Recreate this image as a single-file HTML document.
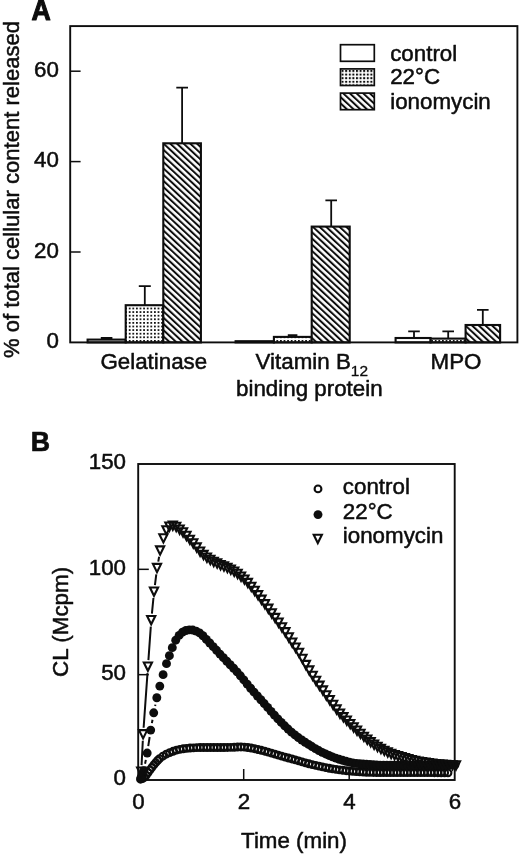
<!DOCTYPE html>
<html><head><meta charset="utf-8"><title>Figure</title>
<style>
html,body{margin:0;padding:0;background:#fff;}
body{width:520px;height:854px;overflow:hidden;font-family:"Liberation Sans",sans-serif;}
svg{display:block;filter:grayscale(1) blur(0.3px);}
</style></head><body>
<svg width="520" height="854" viewBox="0 0 520 854" font-family="'Liberation Sans', sans-serif" fill="#0d0d0d">
<style>text{stroke:#0d0d0d;stroke-width:0.5px;stroke-linejoin:round;}</style>
<defs>
<pattern id="dots" patternUnits="userSpaceOnUse" x="-0.8" y="1.6" width="3.6" height="3.6"><rect width="3.6" height="3.6" fill="#fff"/><rect x="0" y="0" width="1.75" height="1.75" fill="#0d0d0d"/></pattern>
<pattern id="dotsL" patternUnits="userSpaceOnUse" x="341.6" y="70.0" width="3.6" height="3.6"><rect width="3.6" height="3.6" fill="#fff"/><rect x="0" y="0" width="2.0" height="2.0" fill="#0d0d0d"/></pattern>
<pattern id="hatch" patternUnits="userSpaceOnUse" x="1.0" width="4.55" height="40" patternTransform="rotate(-47)"><rect width="4.55" height="40" fill="#fff"/><rect x="0" y="0" width="2.0" height="40" fill="#0d0d0d"/></pattern>
</defs>
<rect width="520" height="854" fill="#fff"/>
<g id="panelA">
<path d="M106.6 339.6V338M100.8 338H112.4" stroke="#0d0d0d" stroke-width="1.8" fill="none"/>
<rect x="87.6" y="339.6" width="38.1" height="2.8" fill="#fff" stroke="#0d0d0d" stroke-width="2.1"/>
<path d="M144.8 305.2V286.2M138.8 286.2H150.8" stroke="#0d0d0d" stroke-width="1.8" fill="none"/>
<rect x="125.7" y="305.2" width="37.6" height="37.2" fill="url(#dots)" stroke="#0d0d0d" stroke-width="2.1"/>
<rect x="163.3" y="143.3" width="37.6" height="199.1" fill="url(#hatch)" stroke="#0d0d0d" stroke-width="2.1"/>
<rect x="235.6" y="341.2" width="38.3" height="1.2" fill="#fff" stroke="#0d0d0d" stroke-width="2.1"/>
<path d="M292.6 336.9V335.2M287.8 335.2H297.4" stroke="#0d0d0d" stroke-width="1.8" fill="none"/>
<rect x="273.9" y="336.9" width="37.8" height="5.5" fill="url(#dots)" stroke="#0d0d0d" stroke-width="2.1"/>
<path d="M331.2 226.6V200.4M325.4 200.4H337" stroke="#0d0d0d" stroke-width="1.8" fill="none"/>
<rect x="311.7" y="226.6" width="38" height="115.8" fill="url(#hatch)" stroke="#0d0d0d" stroke-width="2.1"/>
<path d="M414 338V331.3M408.2 331.3H419.8" stroke="#0d0d0d" stroke-width="1.8" fill="none"/>
<rect x="395.6" y="338" width="35" height="4.4" fill="#fff" stroke="#0d0d0d" stroke-width="2.1"/>
<path d="M448.2 338.6V331.3M442.4 331.3H454" stroke="#0d0d0d" stroke-width="1.8" fill="none"/>
<rect x="430.6" y="338.6" width="35" height="3.8" fill="url(#dots)" stroke="#0d0d0d" stroke-width="2.1"/>
<path d="M482.8 325V309.8M477 309.8H488.6" stroke="#0d0d0d" stroke-width="1.8" fill="none"/>
<rect x="465.6" y="325" width="34.5" height="17.4" fill="url(#hatch)" stroke="#0d0d0d" stroke-width="2.1"/>
<path d="M182.1 143.3V87.6M176.3 87.6H188" stroke="#0d0d0d" stroke-width="1.8" fill="none"/>
<rect x="70.2" y="26.1" width="447.2" height="316.3" fill="none" stroke="#0d0d0d" stroke-width="1.9"/>
<path d="M70.2 252H80.6" stroke="#0d0d0d" stroke-width="1.5"/>
<path d="M70.2 161.6H80.6" stroke="#0d0d0d" stroke-width="1.5"/>
<path d="M70.2 71.2H80.6" stroke="#0d0d0d" stroke-width="1.5"/>
<text transform="translate(58.9 348.2) scale(1.03 1)" font-size="21.7" text-anchor="end">0</text>
<text transform="translate(58.9 257.8) scale(1.03 1)" font-size="21.7" text-anchor="end">20</text>
<text transform="translate(58.9 167.4) scale(1.03 1)" font-size="21.7" text-anchor="end">40</text>
<text transform="translate(58.9 77) scale(1.03 1)" font-size="21.7" text-anchor="end">60</text>
<text transform="translate(19 189.5) rotate(-90)" font-size="21.7" text-anchor="middle" textLength="337" lengthAdjust="spacingAndGlyphs">% of total cellular content released</text>
<text transform="translate(153.8 369) scale(1.03 1)" font-size="21.7" text-anchor="middle">Gelatinase</text>
<text transform="translate(255.6 369.3) scale(1.03 1)" font-size="21.7" text-anchor="start">Vitamin B<tspan font-size="15" dy="6.6" style="stroke-width:0.3px">12</tspan></text>
<text transform="translate(309.3 395.8) scale(1.03 1)" font-size="21.7" text-anchor="middle">binding protein</text>
<text transform="translate(456 369.2) scale(1.03 1)" font-size="21.7" text-anchor="middle">MPO</text>
<rect x="340.5" y="44.7" width="33.8" height="16.6" fill="#fff" stroke="#0d0d0d" stroke-width="1.7"/>
<rect x="340.5" y="68.9" width="33.8" height="16.6" fill="url(#dotsL)" stroke="#0d0d0d" stroke-width="1.7"/>
<rect x="340.5" y="93.1" width="33.8" height="16.6" fill="url(#hatch)" stroke="#0d0d0d" stroke-width="1.7"/>
<text transform="translate(390.2 60.5) scale(1.03 1)" font-size="21.7" text-anchor="start">control</text>
<text transform="translate(390.2 84.2) scale(1.03 1)" font-size="21.7" text-anchor="start">22°C</text>
<text transform="translate(390.2 108.5) scale(1.03 1)" font-size="21.7" text-anchor="start">ionomycin</text>
<text transform="translate(31.4 19.7) scale(0.89 1)" font-size="30" font-weight="bold" style="stroke-width:1.1px">A</text>
</g>
<g id="panelB">
<text transform="translate(30.7 451.0) scale(0.94 1)" font-size="28.4" font-weight="bold" style="stroke-width:0.7px">B</text>
<rect x="138.2" y="464" width="316.5" height="316" fill="none" stroke="#0d0d0d" stroke-width="1.9"/>
<path d="M138.2 674.67H148.8" stroke="#0d0d0d" stroke-width="1.5"/>
<path d="M138.2 569.33H148.8" stroke="#0d0d0d" stroke-width="1.5"/>
<path d="M243.7 780V769" stroke="#0d0d0d" stroke-width="1.5"/>
<path d="M349.2 780V769" stroke="#0d0d0d" stroke-width="1.5"/>
<text transform="translate(126 785.2) scale(1.03 1)" font-size="21.7" text-anchor="end">0</text>
<text transform="translate(126 679.87) scale(1.03 1)" font-size="21.7" text-anchor="end">50</text>
<text transform="translate(126 574.53) scale(1.03 1)" font-size="21.7" text-anchor="end">100</text>
<text transform="translate(126 469.2) scale(1.03 1)" font-size="21.7" text-anchor="end">150</text>
<text transform="translate(138.4 809.2) scale(1.03 1)" font-size="21.7" text-anchor="middle">0</text>
<text transform="translate(243.9 809.2) scale(1.03 1)" font-size="21.7" text-anchor="middle">2</text>
<text transform="translate(349.4 809.2) scale(1.03 1)" font-size="21.7" text-anchor="middle">4</text>
<text transform="translate(454.9 809.2) scale(1.03 1)" font-size="21.7" text-anchor="middle">6</text>
<text transform="translate(67.6 621.8) rotate(-90) scale(1.035 1)" font-size="21.7" text-anchor="middle">CL (Mcpm)</text>
<text transform="translate(294 847.9) scale(1.03 1)" font-size="21.7" text-anchor="middle">Time (min)</text>
<g fill="none" stroke="#0d0d0d" stroke-width="2.1"><circle cx="140.5" cy="779.2" r="3.4"/><circle cx="142.4" cy="778.52" r="3.4"/><circle cx="144.3" cy="777.27" r="3.4"/><circle cx="146.2" cy="775.29" r="3.4"/><circle cx="148.1" cy="772.55" r="3.4"/><circle cx="150" cy="769.91" r="3.4"/><circle cx="151.9" cy="767.34" r="3.4"/><circle cx="153.8" cy="764.88" r="3.4"/><circle cx="155.7" cy="762.61" r="3.4"/><circle cx="157.6" cy="760.49" r="3.4"/><circle cx="159.5" cy="758.69" r="3.4"/><circle cx="162.89" cy="756.13" r="3.4"/><circle cx="166.29" cy="754.17" r="3.4"/><circle cx="169.68" cy="752.6" r="3.4"/><circle cx="173.08" cy="751.28" r="3.4"/><circle cx="176.47" cy="750.15" r="3.4"/><circle cx="179.86" cy="749.34" r="3.4"/><circle cx="183.26" cy="748.79" r="3.4"/><circle cx="186.65" cy="748.36" r="3.4"/><circle cx="190.05" cy="748.04" r="3.4"/><circle cx="193.44" cy="747.84" r="3.4"/><circle cx="196.84" cy="747.67" r="3.4"/><circle cx="200.23" cy="747.57" r="3.4"/><circle cx="203.62" cy="747.56" r="3.4"/><circle cx="207.02" cy="747.56" r="3.4"/><circle cx="210.41" cy="747.56" r="3.4"/><circle cx="213.81" cy="747.56" r="3.4"/><circle cx="217.2" cy="747.56" r="3.4"/><circle cx="220.59" cy="747.54" r="3.4"/><circle cx="223.99" cy="747.5" r="3.4"/><circle cx="227.38" cy="747.45" r="3.4"/><circle cx="230.78" cy="747.39" r="3.4"/><circle cx="234.17" cy="747.29" r="3.4"/><circle cx="237.56" cy="747.06" r="3.4"/><circle cx="240.96" cy="746.93" r="3.4"/><circle cx="244.35" cy="747.1" r="3.4"/><circle cx="247.75" cy="747.5" r="3.4"/><circle cx="251.14" cy="748" r="3.4"/><circle cx="254.54" cy="748.71" r="3.4"/><circle cx="257.93" cy="749.48" r="3.4"/><circle cx="261.32" cy="750.3" r="3.4"/><circle cx="264.72" cy="751.19" r="3.4"/><circle cx="268.11" cy="752.13" r="3.4"/><circle cx="271.51" cy="753.15" r="3.4"/><circle cx="274.9" cy="754.17" r="3.4"/><circle cx="278.29" cy="755.16" r="3.4"/><circle cx="281.69" cy="756.14" r="3.4"/><circle cx="285.08" cy="757.1" r="3.4"/><circle cx="288.48" cy="758.03" r="3.4"/><circle cx="291.87" cy="758.94" r="3.4"/><circle cx="295.26" cy="759.87" r="3.4"/><circle cx="298.66" cy="760.84" r="3.4"/><circle cx="302.05" cy="761.85" r="3.4"/><circle cx="305.45" cy="762.85" r="3.4"/><circle cx="308.84" cy="763.77" r="3.4"/><circle cx="312.24" cy="764.62" r="3.4"/><circle cx="315.63" cy="765.41" r="3.4"/><circle cx="319.02" cy="766.17" r="3.4"/><circle cx="322.42" cy="766.9" r="3.4"/><circle cx="325.81" cy="767.61" r="3.4"/><circle cx="329.21" cy="768.26" r="3.4"/><circle cx="332.6" cy="768.85" r="3.4"/><circle cx="335.99" cy="769.38" r="3.4"/><circle cx="339.39" cy="769.87" r="3.4"/><circle cx="342.78" cy="770.3" r="3.4"/><circle cx="346.18" cy="770.68" r="3.4"/><circle cx="349.57" cy="771.03" r="3.4"/><circle cx="352.96" cy="771.33" r="3.4"/><circle cx="356.36" cy="771.59" r="3.4"/><circle cx="359.75" cy="771.83" r="3.4"/><circle cx="363.15" cy="772.06" r="3.4"/><circle cx="366.54" cy="772.25" r="3.4"/><circle cx="369.94" cy="772.38" r="3.4"/><circle cx="373.33" cy="772.45" r="3.4"/><circle cx="376.72" cy="772.51" r="3.4"/><circle cx="380.12" cy="772.56" r="3.4"/><circle cx="383.51" cy="772.6" r="3.4"/><circle cx="386.91" cy="772.62" r="3.4"/><circle cx="390.3" cy="772.63" r="3.4"/><circle cx="393.69" cy="772.63" r="3.4"/><circle cx="397.09" cy="772.63" r="3.4"/><circle cx="400.48" cy="772.63" r="3.4"/><circle cx="403.88" cy="772.63" r="3.4"/><circle cx="407.27" cy="772.63" r="3.4"/><circle cx="410.66" cy="772.63" r="3.4"/><circle cx="414.06" cy="772.63" r="3.4"/><circle cx="417.45" cy="772.63" r="3.4"/><circle cx="420.85" cy="772.63" r="3.4"/><circle cx="424.24" cy="772.64" r="3.4"/><circle cx="427.64" cy="772.65" r="3.4"/><circle cx="431.03" cy="772.67" r="3.4"/><circle cx="434.42" cy="772.69" r="3.4"/><circle cx="437.82" cy="772.71" r="3.4"/><circle cx="441.21" cy="772.73" r="3.4"/><circle cx="444.61" cy="772.76" r="3.4"/><circle cx="448" cy="772.78" r="3.4"/></g>
<path d="M145.06 763.82L145.84 759.9M148.26 746.11L149.64 737.02M151.9 723.2L152.5 719.72M155.11 705.97L155.39 704.59" fill="none" stroke="#0d0d0d" stroke-width="2"/>
<g fill="#0d0d0d"><circle cx="141" cy="777.68" r="4.45"/><circle cx="143.7" cy="770.68" r="4.45"/><circle cx="147.2" cy="753.03" r="4.45"/><circle cx="150.7" cy="730.1" r="4.45"/><circle cx="153.7" cy="712.82" r="4.45"/><circle cx="156.8" cy="697.74" r="4.45"/><circle cx="159.8" cy="686.09" r="4.45"/><circle cx="163.1" cy="674.66" r="4.45"/><circle cx="166.5" cy="663.64" r="4.45"/><circle cx="169.4" cy="655.72" r="4.45"/><circle cx="172.3" cy="647.64" r="4.45"/><circle cx="175.71" cy="640.19" r="4.45"/><circle cx="179.11" cy="635.39" r="4.45"/><circle cx="182.52" cy="632.18" r="4.45"/><circle cx="185.92" cy="630.49" r="4.45"/><circle cx="189.33" cy="629.88" r="4.45"/><circle cx="192.74" cy="630.05" r="4.45"/><circle cx="196.14" cy="631.11" r="4.45"/><circle cx="199.55" cy="632.86" r="4.45"/><circle cx="202.95" cy="635.77" r="4.45"/><circle cx="206.36" cy="639.44" r="4.45"/><circle cx="209.77" cy="642.99" r="4.45"/><circle cx="213.17" cy="646.62" r="4.45"/><circle cx="216.58" cy="650.32" r="4.45"/><circle cx="219.98" cy="654.08" r="4.45"/><circle cx="223.39" cy="657.71" r="4.45"/><circle cx="226.8" cy="661.23" r="4.45"/><circle cx="230.2" cy="664.75" r="4.45"/><circle cx="233.61" cy="668.24" r="4.45"/><circle cx="237.01" cy="671.85" r="4.45"/><circle cx="240.42" cy="675.79" r="4.45"/><circle cx="243.83" cy="679.93" r="4.45"/><circle cx="247.23" cy="684.15" r="4.45"/><circle cx="250.64" cy="688.23" r="4.45"/><circle cx="254.04" cy="692.15" r="4.45"/><circle cx="257.45" cy="695.98" r="4.45"/><circle cx="260.86" cy="699.77" r="4.45"/><circle cx="264.26" cy="703.56" r="4.45"/><circle cx="267.67" cy="707.42" r="4.45"/><circle cx="271.07" cy="711.33" r="4.45"/><circle cx="274.48" cy="715.2" r="4.45"/><circle cx="277.89" cy="718.93" r="4.45"/><circle cx="281.29" cy="722.43" r="4.45"/><circle cx="284.7" cy="725.81" r="4.45"/><circle cx="288.1" cy="729.06" r="4.45"/><circle cx="291.51" cy="732.13" r="4.45"/><circle cx="294.92" cy="734.96" r="4.45"/><circle cx="298.32" cy="737.55" r="4.45"/><circle cx="301.73" cy="739.98" r="4.45"/><circle cx="305.13" cy="742.27" r="4.45"/><circle cx="308.54" cy="744.44" r="4.45"/><circle cx="311.95" cy="746.54" r="4.45"/><circle cx="315.35" cy="748.58" r="4.45"/><circle cx="318.76" cy="750.53" r="4.45"/><circle cx="322.17" cy="752.33" r="4.45"/><circle cx="325.57" cy="753.96" r="4.45"/><circle cx="328.98" cy="755.46" r="4.45"/><circle cx="332.38" cy="756.87" r="4.45"/><circle cx="335.79" cy="758.15" r="4.45"/><circle cx="339.2" cy="759.3" r="4.45"/><circle cx="342.6" cy="760.31" r="4.45"/><circle cx="346.01" cy="761.27" r="4.45"/><circle cx="349.41" cy="762.13" r="4.45"/><circle cx="352.82" cy="762.86" r="4.45"/><circle cx="356.23" cy="763.38" r="4.45"/><circle cx="359.63" cy="763.75" r="4.45"/><circle cx="363.04" cy="764.06" r="4.45"/><circle cx="366.44" cy="764.32" r="4.45"/><circle cx="369.85" cy="764.54" r="4.45"/><circle cx="373.26" cy="764.73" r="4.45"/><circle cx="376.66" cy="764.92" r="4.45"/><circle cx="380.07" cy="765.09" r="4.45"/><circle cx="383.47" cy="765.21" r="4.45"/><circle cx="386.88" cy="765.25" r="4.45"/><circle cx="390.29" cy="765.25" r="4.45"/><circle cx="393.69" cy="765.23" r="4.45"/><circle cx="397.1" cy="765.2" r="4.45"/><circle cx="400.5" cy="765.17" r="4.45"/><circle cx="403.91" cy="765.14" r="4.45"/><circle cx="407.32" cy="765.11" r="4.45"/><circle cx="410.72" cy="765.08" r="4.45"/><circle cx="414.13" cy="765.05" r="4.45"/><circle cx="417.53" cy="765.03" r="4.45"/><circle cx="420.94" cy="765.01" r="4.45"/><circle cx="424.35" cy="764.99" r="4.45"/><circle cx="427.75" cy="764.97" r="4.45"/><circle cx="431.16" cy="764.95" r="4.45"/><circle cx="434.56" cy="764.93" r="4.45"/><circle cx="437.97" cy="764.91" r="4.45"/><circle cx="441.38" cy="764.89" r="4.45"/><circle cx="444.78" cy="764.88" r="4.45"/><circle cx="448.19" cy="764.86" r="4.45"/><circle cx="451.59" cy="764.85" r="4.45"/><circle cx="455" cy="764.83" r="4.45"/></g>
<path d="M141.57 765.13L142.81 740.71M143.62 727.73L147.5 673.06M148.42 660.1L150.8 626.57M151.91 613.62L153.44 597.98M154.92 585.07L156.28 574.43M158.27 561.58L159.11 556.79" fill="none" stroke="#0d0d0d" stroke-width="2"/>
<g fill="none" stroke="#0d0d0d" stroke-width="2.1" stroke-linejoin="miter"><path d="M137.1 767.57H145.3L141.2 775.87Z"/><path d="M139 730.16H147.2L143.1 738.46Z"/><path d="M143.8 662.53H152L147.9 670.83Z"/><path d="M147.1 616.03H155.3L151.2 624.33Z"/><path d="M149.9 587.46H158.1L154 595.76Z"/><path d="M152.9 563.92H161.1L157 572.22Z"/><path d="M156 546.33H164.2L160.1 554.63Z"/><path d="M159.3 534.19H167.5L163.4 542.49Z"/><path d="M162.3 526.18H170.5L166.4 534.48Z"/><path d="M165.3 522.55H173.5L169.4 530.85Z"/><path d="M168.71 521.52H176.91L172.81 529.82Z"/><path d="M172.12 522.78H180.32L176.22 531.08Z"/><path d="M175.54 525.56H183.74L179.64 533.86Z"/><path d="M178.95 528.27H187.15L183.05 536.57Z"/><path d="M182.36 531.75H190.56L186.46 540.05Z"/><path d="M185.77 535.69H193.97L189.87 543.99Z"/><path d="M189.18 539.25H197.38L193.28 547.55Z"/><path d="M192.6 543.35H200.8L196.7 551.65Z"/><path d="M196.01 547.49H204.21L200.11 555.79Z"/><path d="M199.42 550.92H207.62L203.52 559.22Z"/><path d="M202.83 553.57H211.03L206.93 561.87Z"/><path d="M206.24 555.78H214.44L210.34 564.08Z"/><path d="M209.65 557.71H217.85L213.75 566.01Z"/><path d="M213.07 559.4H221.27L217.17 567.7Z"/><path d="M216.48 560.97H224.68L220.58 569.27Z"/><path d="M219.89 562.38H228.09L223.99 570.68Z"/><path d="M223.3 563.84H231.5L227.4 572.14Z"/><path d="M226.71 565.58H234.91L230.81 573.88Z"/><path d="M230.13 567.56H238.33L234.23 575.86Z"/><path d="M233.54 569.82H241.74L237.64 578.12Z"/><path d="M236.95 572.46H245.15L241.05 580.76Z"/><path d="M240.36 575.44H248.56L244.46 583.74Z"/><path d="M243.77 578.87H251.97L247.87 587.17Z"/><path d="M247.19 582.68H255.39L251.29 590.98Z"/><path d="M250.6 586.75H258.8L254.7 595.05Z"/><path d="M254.01 591.16H262.21L258.11 599.46Z"/><path d="M257.42 595.62H265.62L261.52 603.92Z"/><path d="M260.83 600.11H269.03L264.93 608.41Z"/><path d="M264.25 604.66H272.45L268.35 612.96Z"/><path d="M267.66 609.25H275.86L271.76 617.55Z"/><path d="M271.07 613.89H279.27L275.17 622.19Z"/><path d="M274.48 618.57H282.68L278.58 626.87Z"/><path d="M277.89 623.29H286.09L281.99 631.59Z"/><path d="M281.3 628.15H289.5L285.4 636.45Z"/><path d="M284.72 633.28H292.92L288.82 641.58Z"/><path d="M288.13 638.51H296.33L292.23 646.81Z"/><path d="M291.54 643.56H299.74L295.64 651.86Z"/><path d="M294.95 648.69H303.15L299.05 656.99Z"/><path d="M298.36 654.68H306.56L302.46 662.98Z"/><path d="M301.78 660.83H309.98L305.88 669.13Z"/><path d="M305.19 666.4H313.39L309.29 674.7Z"/><path d="M308.6 671.7H316.8L312.7 680Z"/><path d="M312.01 676.78H320.21L316.11 685.08Z"/><path d="M315.42 681.62H323.62L319.52 689.92Z"/><path d="M318.84 686.41H327.04L322.94 694.71Z"/><path d="M322.25 691.26H330.45L326.35 699.56Z"/><path d="M325.66 696.07H333.86L329.76 704.37Z"/><path d="M329.07 700.78H337.27L333.17 709.08Z"/><path d="M332.48 705.39H340.68L336.58 713.69Z"/><path d="M335.9 709.48H344.1L340 717.78Z"/><path d="M339.31 713.09H347.51L343.41 721.39Z"/><path d="M342.72 716.52H350.92L346.82 724.82Z"/><path d="M346.13 719.94H354.33L350.23 728.24Z"/><path d="M349.54 723.26H357.74L353.64 731.56Z"/><path d="M352.95 726.49H361.15L357.05 734.79Z"/><path d="M356.37 729.68H364.57L360.47 737.98Z"/><path d="M359.78 732.7H367.98L363.88 741Z"/><path d="M363.19 735.47H371.39L367.29 743.77Z"/><path d="M366.6 738.12H374.8L370.7 746.42Z"/><path d="M370.01 740.59H378.21L374.11 748.89Z"/><path d="M373.43 742.82H381.63L377.53 751.12Z"/><path d="M376.84 744.84H385.04L380.94 753.14Z"/><path d="M380.25 746.7H388.45L384.35 755Z"/><path d="M383.66 748.35H391.86L387.76 756.65Z"/><path d="M387.07 749.77H395.27L391.17 758.07Z"/><path d="M390.49 751H398.69L394.59 759.3Z"/><path d="M393.9 752.11H402.1L398 760.41Z"/><path d="M397.31 753.14H405.51L401.41 761.44Z"/><path d="M400.72 754.14H408.92L404.82 762.44Z"/><path d="M404.13 755.11H412.33L408.23 763.41Z"/><path d="M407.55 756.02H415.75L411.65 764.32Z"/><path d="M410.96 756.81H419.16L415.06 765.11Z"/><path d="M414.37 757.49H422.57L418.47 765.79Z"/><path d="M417.78 758.1H425.98L421.88 766.4Z"/><path d="M421.19 758.64H429.39L425.29 766.94Z"/><path d="M424.6 759.13H432.8L428.7 767.43Z"/><path d="M428.02 759.58H436.22L432.12 767.88Z"/><path d="M431.43 759.99H439.63L435.53 768.29Z"/><path d="M434.84 760.32H443.04L438.94 768.62Z"/><path d="M438.25 760.59H446.45L442.35 768.89Z"/><path d="M441.66 760.82H449.86L445.76 769.12Z"/><path d="M445.08 761.03H453.28L449.18 769.33Z"/><path d="M448.49 761.18H456.69L452.59 769.48Z"/><path d="M451.9 761.25H460.1L456 769.55Z"/></g>
<circle cx="318.0" cy="488.9" r="3.4" fill="#fff" stroke="#0d0d0d" stroke-width="2.1"/>
<circle cx="318.0" cy="514.6" r="4.45" fill="#0d0d0d"/>
<path d="M313.7 534.75H321.9L317.8 543.05Z" fill="none" stroke="#0d0d0d" stroke-width="2.1" stroke-linejoin="miter"/>
<text transform="translate(342.8 493.7) scale(1.03 1)" font-size="21.7" text-anchor="start">control</text>
<text transform="translate(342.8 518.5) scale(1.03 1)" font-size="21.7" text-anchor="start">22°C</text>
<text transform="translate(342.8 542.8) scale(1.03 1)" font-size="21.7" text-anchor="start">ionomycin</text>
</g>
</svg>
</body></html>
